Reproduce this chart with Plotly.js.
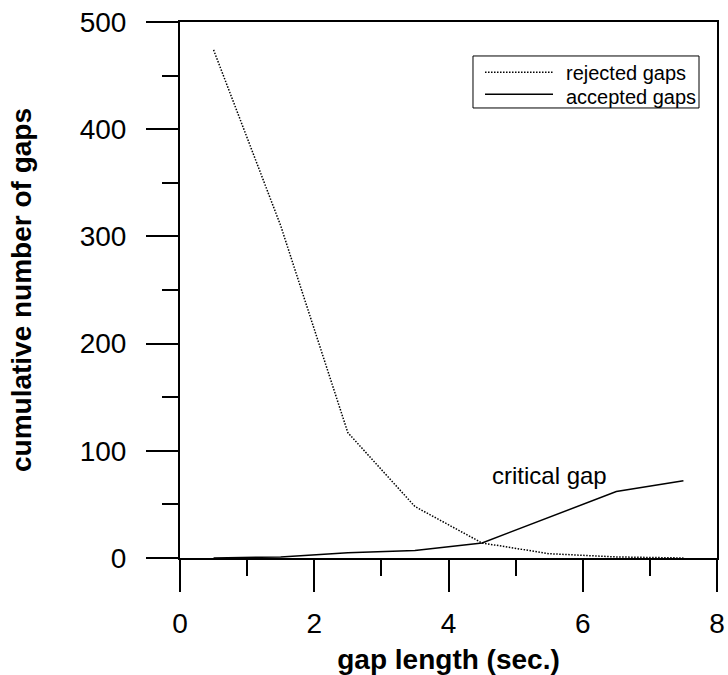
<!DOCTYPE html>
<html>
<head>
<meta charset="utf-8">
<script src="https://cdn.plot.ly/plotly-3.0.1.min.js"></script>
<style>html,body{margin:0;padding:0;background:#fff;}#chart{width:728px;height:675px;}</style>
</head>
<body>
<div id="chart"></div>
<script>
var gapLength = [0.5, 1.5, 2.5, 3.5, 4.5, 5.5, 6.5, 7.5];
var rejectedGaps = [474, 310, 117, 48, 14, 4, 1, 0];
var acceptedGaps = [0, 1, 5, 7, 14, 38, 62, 72];
var seriesNames = ['rejected gaps', 'accepted gaps'];
var xTicks = [0, 2, 4, 6, 8];
var yTicks = [0, 100, 200, 300, 400, 500];

var FONT = 'Arial, "Liberation Sans", sans-serif';
var DOT = '1.5px,1.5px';

var traces = [
  {x: gapLength, y: rejectedGaps, type: 'scatter', mode: 'lines', name: seriesNames[0],
   line: {color: '#000', width: 1.5, dash: DOT}, showlegend: false},
  {x: gapLength, y: acceptedGaps, type: 'scatter', mode: 'lines', name: seriesNames[1],
   line: {color: '#000', width: 1.5}, showlegend: false}
];

var axisCommon = {
  showgrid: false, zeroline: false, showline: true, linecolor: '#000', linewidth: 2,
  mirror: true, ticks: 'outside', ticklen: 32, tickwidth: 2, tickcolor: '#000',
  tickfont: {family: FONT, size: 28, color: '#000'},
  minor: {ticks: 'outside', ticklen: 16, tickwidth: 2, tickcolor: '#000', showgrid: false}
};

// custom legend box (paper coordinates)
var lg = {x0: 0.5456, x1: 0.9665, y0: 0.8396, y1: 0.9366,
          lx0: 0.5680, lx1: 0.6946, tx: 0.7169,
          lineRows: [0.9062, 0.8650], textRows: [0.9067, 0.8619]};

var layout = {
  width: 728, height: 675,
  margin: {l: 180, r: 11, t: 22, b: 117},
  paper_bgcolor: '#fff', plot_bgcolor: '#fff',
  font: {family: FONT, color: '#000'},
  showlegend: false,
  xaxis: Object.assign({}, axisCommon, {
    range: [0, 8], tickvals: xTicks, ticktext: xTicks.map(String),
    minor: Object.assign({}, axisCommon.minor, {dtick: 1, tick0: 0}),
    ticklabelstandoff: 7,
    title: {text: 'gap length (sec.)', font: {family: FONT, size: 28, color: '#000', weight: 'bold'}, standoff: 15}
  }),
  yaxis: Object.assign({}, axisCommon, {
    range: [0, 500], tickvals: yTicks, ticktext: yTicks.map(String),
    minor: Object.assign({}, axisCommon.minor, {dtick: 50, tick0: 0}),
    ticklabelstandoff: 14,
    title: {text: 'cumulative number of gaps', font: {family: FONT, size: 28, color: '#000', weight: 'bold'}, standoff: 40}
  }),
  shapes: [
    {type: 'rect', xref: 'paper', yref: 'paper', x0: lg.x0, x1: lg.x1, y0: lg.y0, y1: lg.y1,
     line: {color: '#000', width: 1}, fillcolor: '#fff'},
    {type: 'line', xref: 'paper', yref: 'paper', x0: lg.lx0, x1: lg.lx1, y0: lg.lineRows[0], y1: lg.lineRows[0],
     line: {color: '#000', width: 1.5, dash: DOT}},
    {type: 'line', xref: 'paper', yref: 'paper', x0: lg.lx0, x1: lg.lx1, y0: lg.lineRows[1], y1: lg.lineRows[1],
     line: {color: '#000', width: 1.5}}
  ],
  annotations: [
    {x: 5.5, y: 77, xref: 'x', yref: 'y', text: 'critical gap', showarrow: false,
     font: {family: FONT, size: 24, color: '#000'}},
    {x: lg.tx, y: lg.textRows[0], xref: 'paper', yref: 'paper', xanchor: 'left', yanchor: 'middle',
     text: seriesNames[0], showarrow: false, borderpad: 0, height: 23, valign: 'middle',
     font: {family: FONT, size: 20, color: '#000'}},
    {x: lg.tx, y: lg.textRows[1], xref: 'paper', yref: 'paper', xanchor: 'left', yanchor: 'middle',
     text: seriesNames[1], showarrow: false, borderpad: 0, height: 23, valign: 'middle',
     font: {family: FONT, size: 20, color: '#000'}}
  ]
};

Plotly.newPlot('chart', traces, layout, {displayModeBar: false, staticPlot: true});
</script>
</body>
</html>
